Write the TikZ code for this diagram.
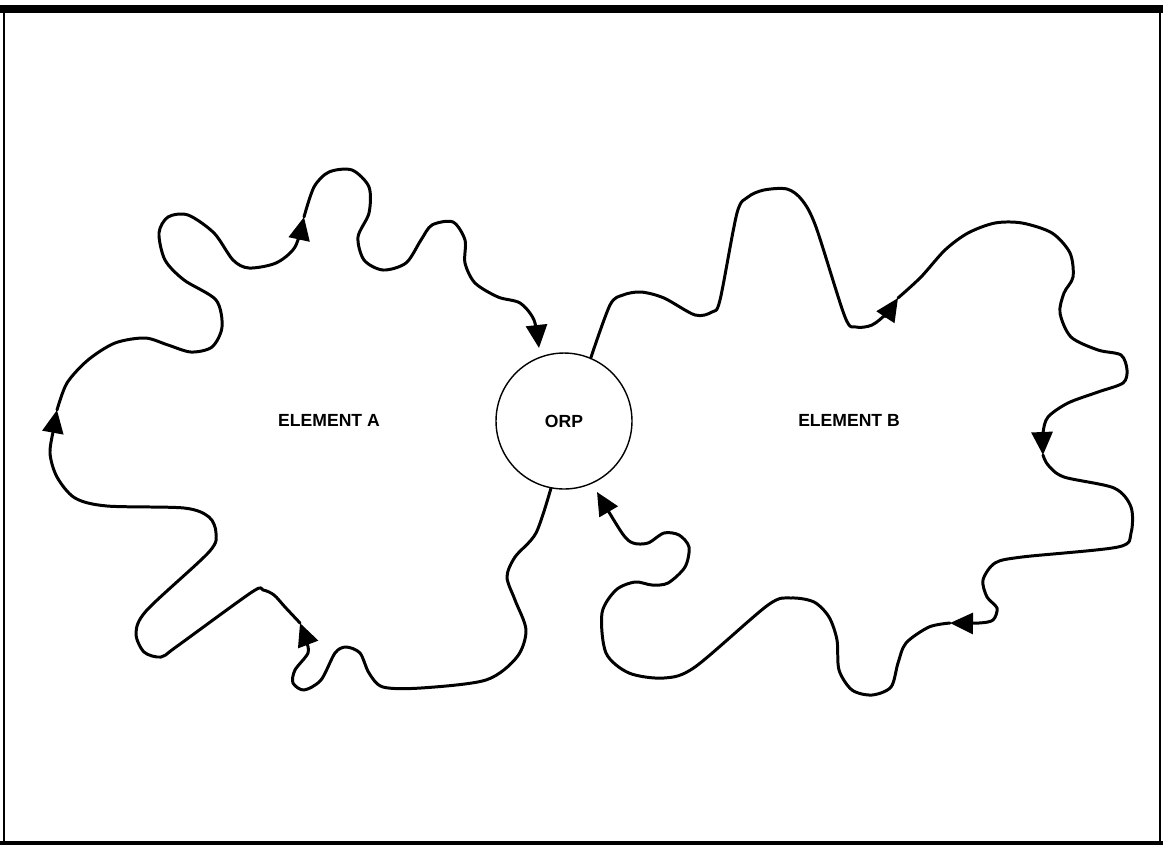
\documentclass[tikz,border=0pt]{standalone}
\usepackage{fontspec}
\setmainfont{Liberation Sans}
\usetikzlibrary{arrows.meta,calc}

\begin{document}
\begin{tikzpicture}[
  x=0.02cm,y=-0.02cm,
  lp/.style={line width=1.7pt,line join=round,line cap=round},
  ar/.style={lp,-{Triangle[length=4.6mm,width=4.2mm]}},
  lb/.style={font=\fontsize{10}{12}\selectfont\bfseries,inner sep=0pt},
  ci/.style={circle,draw,line width=0.8pt,minimum size=2.72cm,
    font=\fontsize{10}{12}\selectfont\bfseries}
]
\useasboundingbox (0,0) rectangle (1163,846);
\draw[line width=4pt]   (0,9) -- (1163,9);
\draw[line width=2.3pt] (0,843) -- (1163,843);
\draw[line width=1.1pt] (4,9) -- (4,843);
\draw[line width=0.6pt] (1160,9) -- (1160,843);

\node[ci] (orp) at (564,421) {ORP};
\node[lb] (ea) at (329,420) {ELEMENT A};
\node[lb] (eb) at (849,420) {ELEMENT B};

\coordinate (a1) at (300,623);
\coordinate (a2) at (57,410);
\coordinate (a3) at (304,217);
\coordinate (a4) at (539,348);
\coordinate (b1) at (898,298);
\coordinate (b2) at (1043,455);
\coordinate (b3) at (950,623);
\coordinate (b4) at (597,492);

\draw[ar] plot[smooth] coordinates {(orp.-101) (536,533) (515,557) (507,577)
  (515,600) (526,630) (517,657) (486,680) (421,688) (383,687) (369,673)
  (360,653) (346,647) (335,653) (321,680) (304,690) (293,683) (295,670)
  (308,653) (306,640) (a1)};
\draw[ar] plot[smooth] coordinates {(a1) (285,607) (274,595) (263,590)
  (252,592) (176,647) (161,657) (144,652) (136,633) (147,610) (209,552)
  (216,533) (209,517) (184,508) (107,506) (75,498) (57,477) (50,453)
  (54,427) (a2)};
\draw[ar] plot[smooth] coordinates {(a2) (67,383) (88,360) (115,343)
  (145,338) (168,345) (191,352) (212,347) (222,327) (216,300) (184,280)
  (165,260) (159,233) (168,217) (188,215) (214,233) (233,260) (249,268)
  (276,263) (295,247) (a3)};
\draw[ar] plot[smooth] coordinates {(a3) (314,187) (329,172) (352,170)
  (369,187) (369,213) (358,237) (364,260) (383,270) (406,263) (421,240)
  (432,225) (453,222) (465,240) (465,263) (475,283) (498,297) (520,303)
  (534,320) (a4)};

\draw[ar] plot[smooth] coordinates {(orp.67) (610,305) (623,295) (641,292)
  (664,298) (695,315) (712,312) (720,300) (737,213) (748,197) (764,190)
  (787,189) (802,200) (816,227) (845,317) (856,327) (872,325) (887,313)
  (b1)};
\draw[ar] plot[smooth] coordinates {(b1) (921,277) (945,250) (968,233)
  (995,223) (1022,223) (1052,233) (1070,253) (1073,277) (1064,293)
  (1060,313) (1071,337) (1098,350) (1121,355) (1127,370) (1123,383)
  (1098,392) (1068,403) (1048,417) (1043,433) (b2)};
\draw[ar] plot[smooth] coordinates {(b2) (1048,465) (1064,477) (1114,488)
  (1131,507) (1131,533) (1118,547) (1022,557) (995,563) (983,580)
  (987,597) (997,608) (993,620) (979,623) (b3)};
\draw[ar] plot[smooth] coordinates {(b3) (929,627) (906,643) (898,663)
  (891,687) (872,695) (852,690) (839,670) (837,640) (829,617) (814,602)
  (791,598) (768,605) (695,667) (664,678) (629,673) (606,653) (602,613)
  (616,590) (635,582) (652,585) (668,583) (685,567) (689,547) (679,535)
  (664,533) (648,543) (633,543) (622,533) (b4)};
\end{tikzpicture}
\end{document}
